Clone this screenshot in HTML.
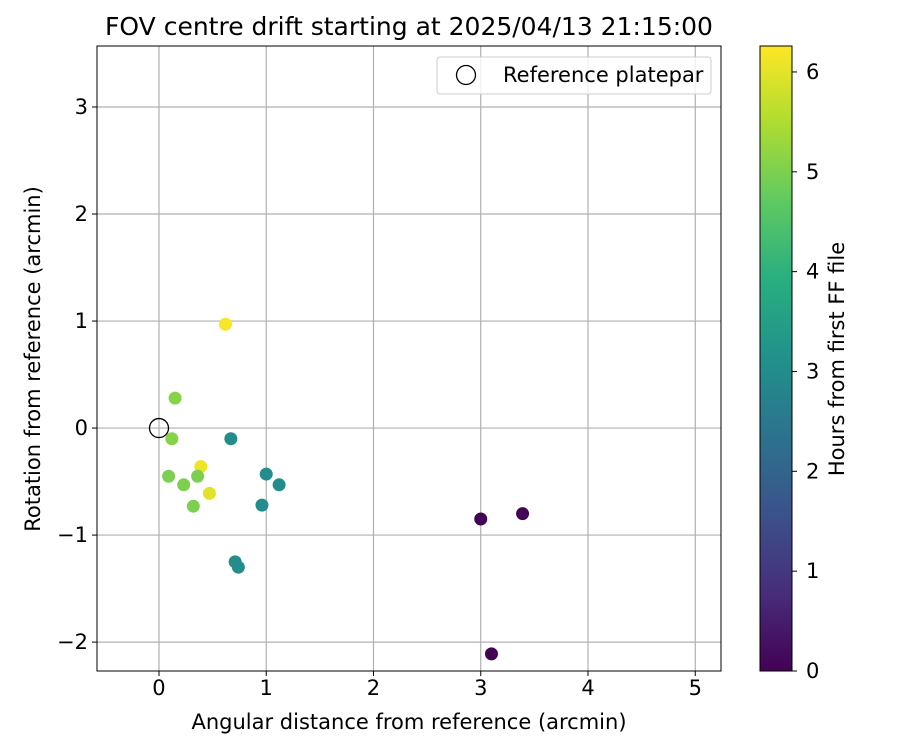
<!DOCTYPE html>
<html><head><meta charset="utf-8"><style>
body{margin:0;background:#fff;font-family:"Liberation Sans","DejaVu Sans",sans-serif}
svg text{font-family:"DejaVu Sans","Liberation Sans",sans-serif;fill:#000}
</style></head><body>
<svg id="chart" width="900" height="750" xmlns="http://www.w3.org/2000/svg">
<defs><linearGradient id="vir" x1="0" y1="1" x2="0" y2="0">
<stop offset="0" stop-color="#440154"/><stop offset="0.125" stop-color="#472d7b"/><stop offset="0.25" stop-color="#3b528b"/><stop offset="0.375" stop-color="#2c728e"/><stop offset="0.5" stop-color="#21918c"/><stop offset="0.625" stop-color="#28ae80"/><stop offset="0.75" stop-color="#5ec962"/><stop offset="0.875" stop-color="#addc30"/><stop offset="1" stop-color="#fde725"/></linearGradient></defs>
<g id="grid"></g><g id="pts"></g><g id="axes"></g>
</svg>
<script>
const xValues=[0.62,0.15,0.12,0.39,0.09,0.23,0.36,0.47,0.32,0.67,1.00,1.12,0.96,0.71,0.74,3.00,3.39,3.10];
const yValues=[0.97,0.28,-0.10,-0.36,-0.45,-0.53,-0.45,-0.61,-0.73,-0.10,-0.43,-0.53,-0.72,-1.25,-1.30,-0.85,-0.80,-2.11];
const hourValues=[6.2,5.1,5.1,6.1,5.0,5.0,5.0,6.0,5.0,3.0,3.0,3.0,3.0,3.0,3.0,0.05,0.05,0.0];
const xTicks=[0,1,2,3,4,5];
const yTicks=[-2,-1,0,1,2,3];
const cTicks=[0,1,2,3,4,5,6];
const L=97,R=721,T=46,B=671,xmin=-0.578,xmax=5.24,ymin=-2.27,ymax=3.57,cmax=6.26;
const FS=21, FT=25;
const sx=v=>L+(v-xmin)/(xmax-xmin)*(R-L), sy=v=>B-(v-ymin)/(ymax-ymin)*(B-T), sc=v=>B-v/cmax*(B-T);
const V=[[68,1,84],[71,45,123],[59,82,139],[44,114,142],[33,145,140],[40,174,128],[94,201,98],[173,220,48],[253,231,37]];
function vir(t){t=Math.max(0,Math.min(1,t))*8;const i=Math.min(7,Math.floor(t)),f=t-i;return 'rgb('+V[i].map((c,k)=>Math.round(c+(V[i+1][k]-c)*f)).join(',')+')';}
const NS='http://www.w3.org/2000/svg';
function mk(p,tag,at,txt){const e=document.createElementNS(NS,tag);for(const k in at)e.setAttribute(k,at[k]);if(txt!=null)e.textContent=txt;p.appendChild(e);return e;}
const g=document.getElementById('grid'),pg=document.getElementById('pts'),ax=document.getElementById('axes');
xTicks.forEach(v=>{const x=sx(v);
const l=mk(g,'line',{x1:x,x2:x,y1:T,y2:B,stroke:'#b0b0b0','stroke-width':1.2});


mk(ax,'line',{x1:x,x2:x,y1:B,y2:B+5,stroke:'#000'});
const t=mk(ax,'text',{x:x,y:B+24,'text-anchor':'middle','font-size':FS},v);

});
yTicks.forEach(v=>{const y=sy(v);
const l=mk(g,'line',{x1:L,x2:R,y1:y,y2:y,stroke:'#b0b0b0','stroke-width':1.2});


mk(ax,'line',{x1:L-5,x2:L,y1:y,y2:y,stroke:'#000'});
const t=mk(ax,'text',{x:L-9,y:y+7,'text-anchor':'end','font-size':FS},v<0?'\u2212'+(-v):v);

});
xValues.forEach((xv,i)=>{
const c=mk(pg,'circle',{cx:sx(xv),cy:sy(yValues[i]),r:6.5,fill:vir(hourValues[i]/cmax)});

});
const ref=mk(pg,'circle',{cx:sx(0),cy:sy(0),r:9.5,fill:'none',stroke:'#000','stroke-width':1.3});


const fr=mk(ax,'rect',{x:L,y:T,width:R-L,height:B-T,fill:'none',stroke:'#000','stroke-width':1});


const lg=mk(ax,'g',{});


mk(lg,'rect',{x:437,y:57,width:274,height:37,rx:3,fill:'#fff','fill-opacity':0.8,stroke:'#ccc'});
mk(lg,'circle',{cx:466,cy:75,r:9.5,fill:'none',stroke:'#000','stroke-width':1.3});
const lt=mk(lg,'text',{x:503,y:82,'font-size':FS},'Reference platepar');


const cb=mk(ax,'rect',{x:760,y:T,width:32,height:B-T,fill:'url(#vir)',stroke:'#000','stroke-width':1});


cTicks.forEach(v=>{const y=sc(v);
mk(ax,'line',{x1:792,x2:797,y1:y,y2:y,stroke:'#000'});
const t=mk(ax,'text',{x:806,y:y+7,'font-size':FS},v);

});
const ttl=mk(ax,'text',{x:409,y:35,'text-anchor':'middle','font-size':FT},'FOV centre drift starting at 2025/04/13 21:15:00');


const xt=mk(ax,'text',{x:409,y:729,'text-anchor':'middle','font-size':FS},'Angular distance from reference (arcmin)');


const yt=mk(ax,'text',{x:0,y:0,'text-anchor':'middle','font-size':FS,transform:'translate(40,359) rotate(-90)'},'Rotation from reference (arcmin)');


const ct=mk(ax,'text',{x:0,y:0,'text-anchor':'middle','font-size':FS,transform:'translate(844,359) rotate(-90)'},'Hours from first FF file');


</script>
</body></html>
